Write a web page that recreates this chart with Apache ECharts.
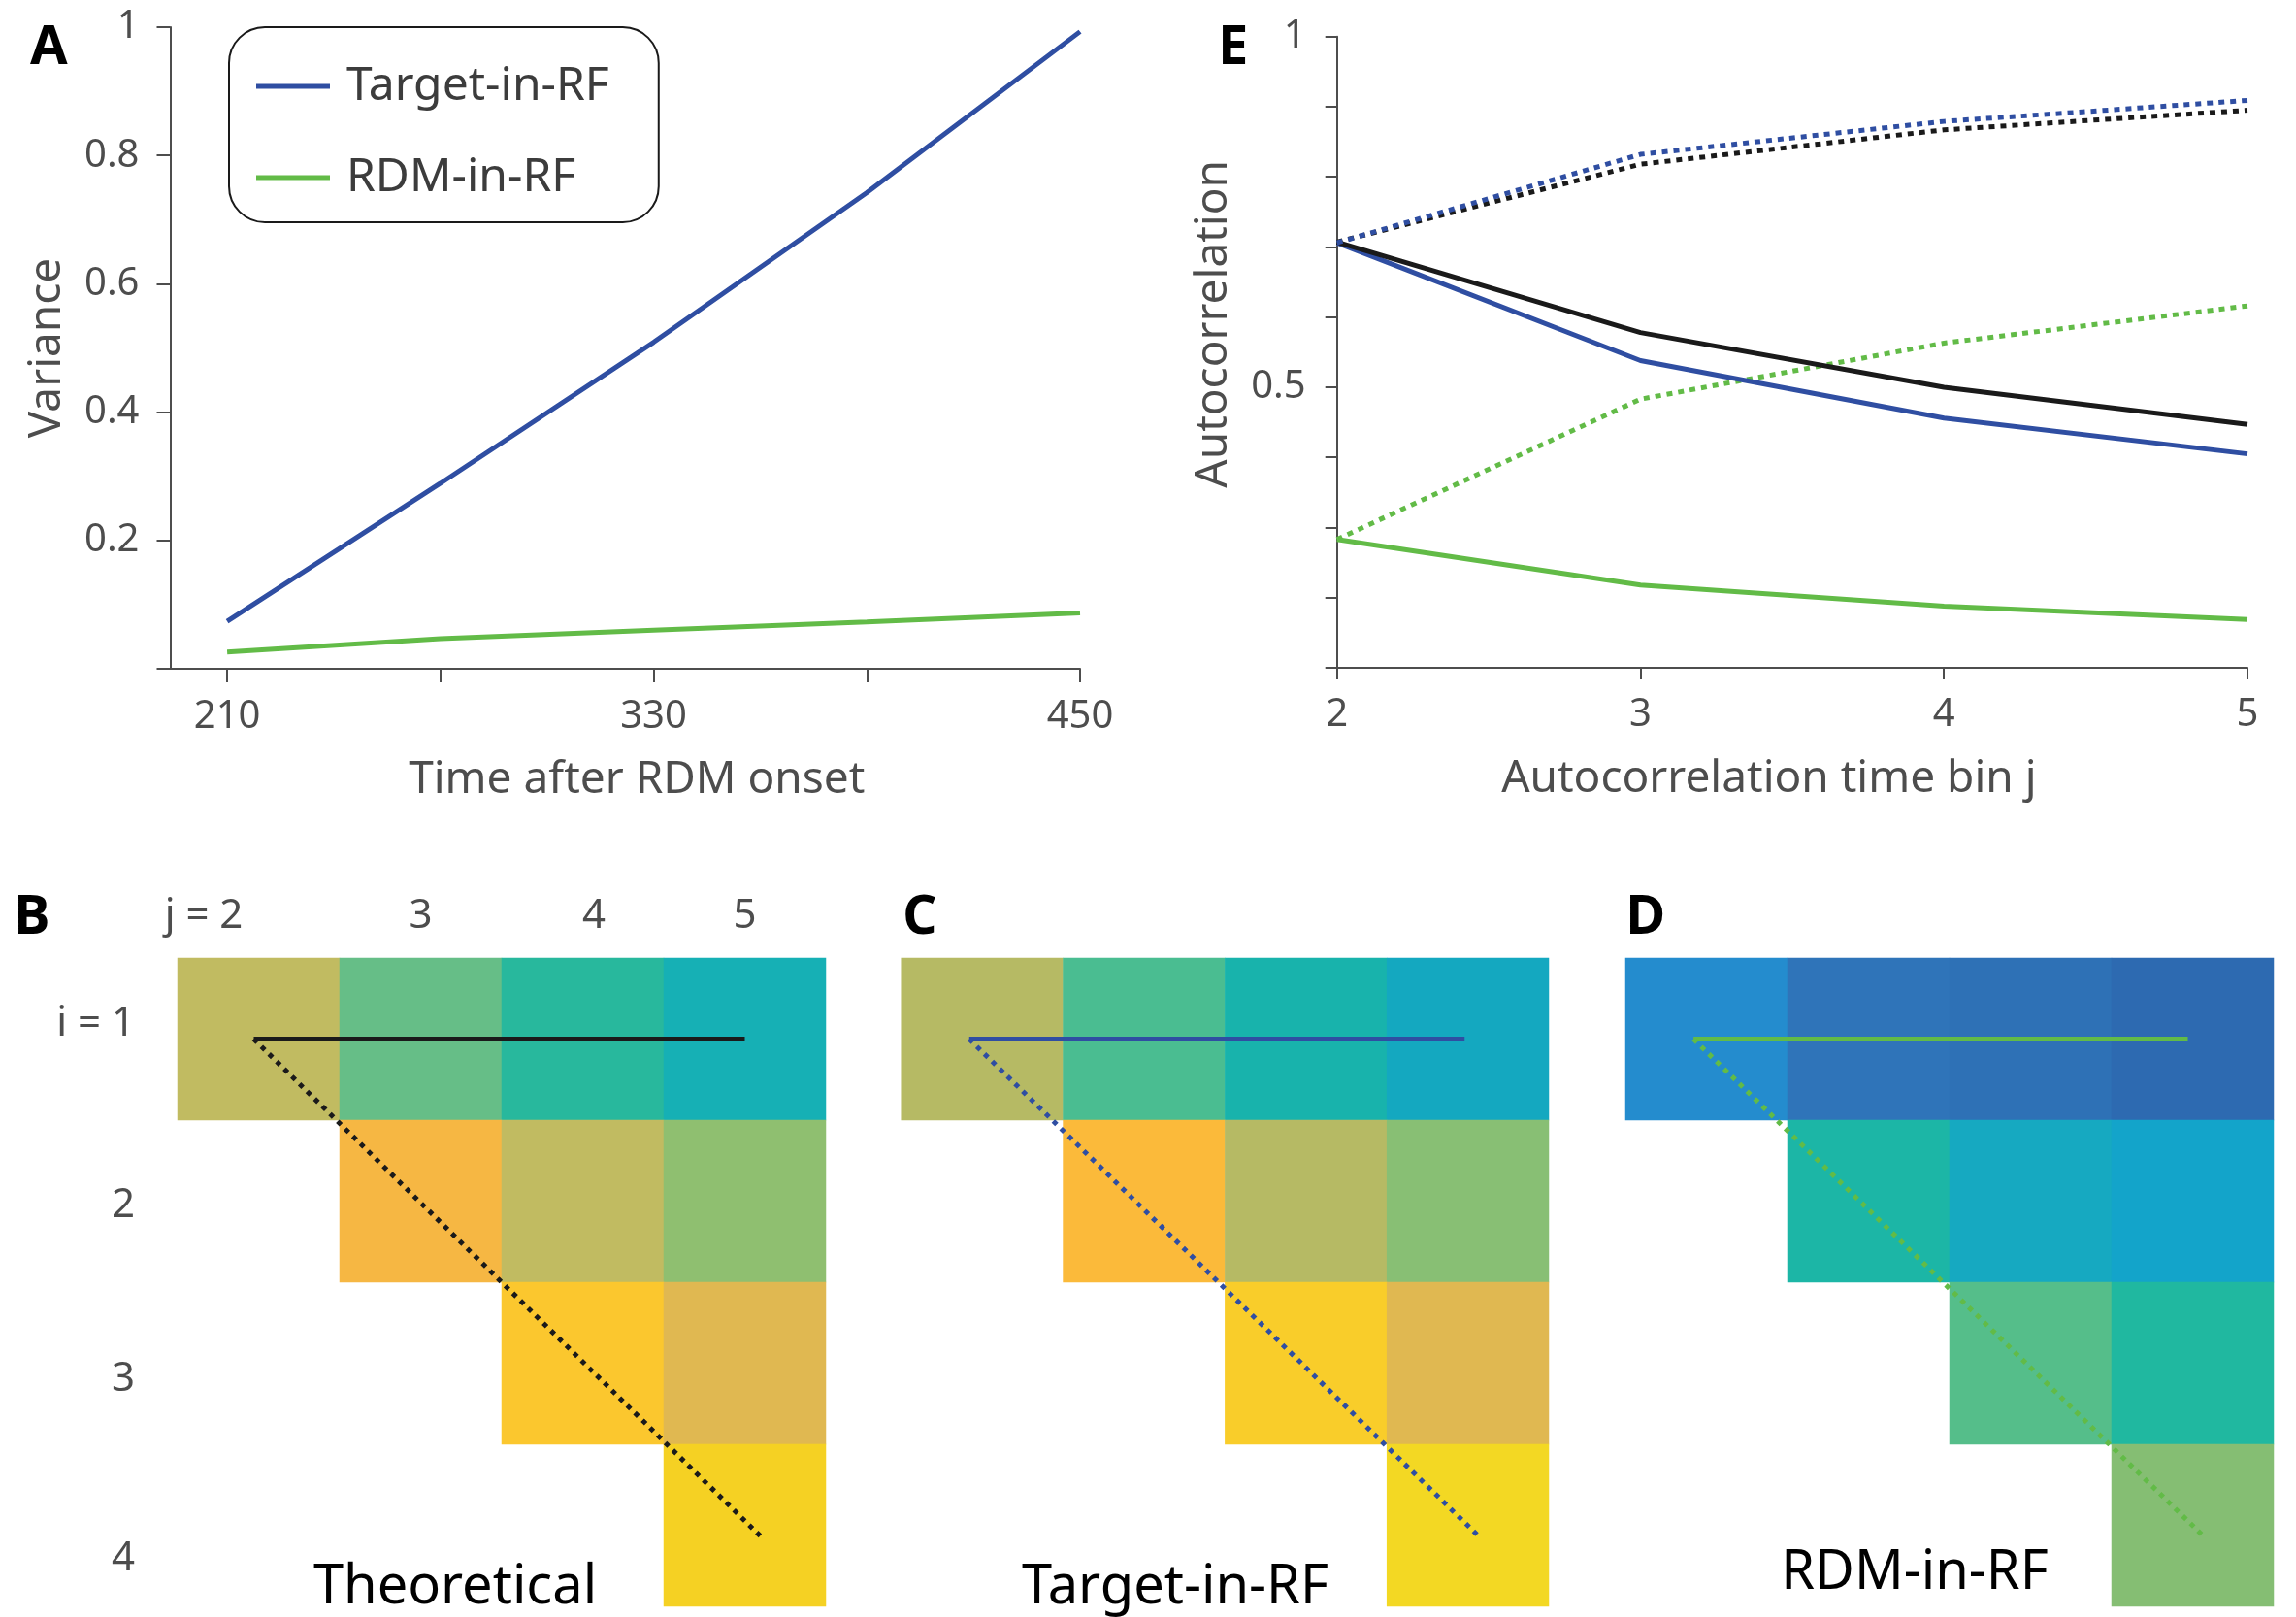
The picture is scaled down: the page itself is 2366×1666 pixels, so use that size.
<!DOCTYPE html>
<html><head><meta charset="utf-8">
<script src="https://cdn.jsdelivr.net/npm/echarts@6/dist/echarts.min.js"></script>
<style>html,body{margin:0;padding:0;background:#fff}#c{width:2366px;height:1666px}</style>
</head><body><div id="c"></div>
<script>
// ---------- Panel A data ----------
const timeBins = [210, 270, 330, 390, 450];
const varianceTarget = [0.074, 0.289, 0.509, 0.742, 0.993];
const varianceRDM = [0.026, 0.047, 0.060, 0.073, 0.087];
const timeTicks = [210, 270, 330, 390, 450];
const timeTickLabels = [210, 330, 450];
const varianceTicks = [0, 0.2, 0.4, 0.6, 0.8, 1];
const varianceTickLabels = [0.2, 0.4, 0.6, 0.8, 1];

// ---------- Panel E data ----------
const lagBins = [2, 3, 4, 5];
const acTheoryRow = [0.707, 0.578, 0.500, 0.447];
const acTheoryDiag = [0.707, 0.818, 0.867, 0.895];
const acTargetRow = [0.706, 0.538, 0.456, 0.405];
const acTargetDiag = [0.706, 0.832, 0.879, 0.909];
const acRdmRow = [0.283, 0.218, 0.188, 0.169];
const acRdmDiag = [0.283, 0.483, 0.563, 0.616];
const acTicks = [0.1, 0.2, 0.3, 0.4, 0.5, 0.6, 0.7, 0.8, 0.9, 1];
const acTickLabels = [0.5, 1];

// ---------- Panels B, C, D data ----------
const jLabels = ['2', '3', '4', '5'];
const iLabels = ['1', '2', '3', '4'];
const theoryMatrix = [
  [0.707, 0.577, 0.500, 0.447],
  [null, 0.816, 0.707, 0.632],
  [null, null, 0.866, 0.775],
  [null, null, null, 0.894]
];
const targetMatrix = [
  [0.706, 0.538, 0.456, 0.405],
  [null, 0.832, 0.700, 0.620],
  [null, null, 0.879, 0.780],
  [null, null, null, 0.909]
];
const rdmMatrix = [
  [0.283, 0.218, 0.188, 0.169],
  [null, 0.483, 0.400, 0.370],
  [null, null, 0.563, 0.470],
  [null, null, null, 0.616]
];
// overlay path endpoints in (j, i) cell units
const rowPathB = [[1.97, 1], [5.0, 1]];
const diagPathB = [[1.97, 1], [5.1, 4.07]];
const rowPathC = [[1.92, 1], [4.98, 1]];
const diagPathC = [[1.92, 1], [5.07, 4.07]];
const rowPathD = [[1.92, 1], [4.97, 1]];
const diagPathD = [[1.92, 1], [5.07, 4.07]];

// ---------- styles ----------
const colorsB = [
  ['#C1BB61', '#66BE87', '#28B89D', '#16B0B5'],
  [null, '#F6B743', '#C1BB61', '#8FBF70'],
  [null, null, '#FBC72E', '#E0B851'],
  [null, null, null, '#F5D123']
];
const colorsC = [
  ['#B6BA64', '#4ABD91', '#18B3AC', '#14A8C0'],
  [null, '#FBBA3A', '#B6BA64', '#88BF74'],
  [null, null, '#F9CD2A', '#E0B851'],
  [null, null, null, '#F3D823']
];
const colorsD = [
  ['#248CCE', '#2F74B9', '#2E71B6', '#2D6AB1'],
  [null, '#1CB6A6', '#16A9C1', '#13A4CA'],
  [null, null, '#55BE8A', '#20B8A0'],
  [null, null, null, '#85BE73']
];
const BLUE = '#2F4EA2', GREEN = '#62BB47', BLACK = '#1A1A1A', GRAY = '#4D4D4D';
const FONT = 'Noto Sans';

function zip(xs, ys) { return xs.map((x, k) => [x, ys[k]]); }
function heatData(mat, cols) {
  const out = [];
  mat.forEach((row, r) => row.forEach((v, c) => {
    if (v !== null) out.push({ value: [c, r, v], itemStyle: { color: cols[r][c] } });
  }));
  return out;
}

const axisLineStyle = { show: true, lineStyle: { color: GRAY, width: 2 } };
const labelStyle = { color: GRAY, fontSize: 40, fontFamily: FONT };
const nameStyle = { color: GRAY, fontSize: 46, fontFamily: FONT };

const grids = [
  { left: 175.5, top: 28, width: 937.5, height: 661 },
  { left: 1377.7, top: 37.7, width: 938.3, height: 650.3 },
  { left: 183, top: 987, width: 668, height: 668 },
  { left: 928.7, top: 987, width: 667.3, height: 668 },
  { left: 1675, top: 987, width: 668, height: 668 }
].map(g => Object.assign({ outerBoundsMode: 'none', containLabel: false }, g));

const hiddenCat = (gi, data, inverse) => ({ gridIndex: gi, type: 'category', data: data, show: false, inverse: !!inverse });
const hiddenVal = (gi, min, max, inverse) => ({ gridIndex: gi, type: 'value', min: min, max: max, show: false, inverse: !!inverse });

const xAxes = [
  {
    gridIndex: 0, type: 'value', min: 194, max: 450,
    axisLine: axisLineStyle,
    axisTick: { show: true, inside: false, length: 14, customValues: timeTicks, lineStyle: { color: GRAY, width: 2 } },
    axisLabel: Object.assign({ customValues: timeTickLabels, margin: 30 }, labelStyle),
    splitLine: { show: false },
    name: 'Time after RDM onset', nameLocation: 'middle', nameGap: 92,
    nameTextStyle: Object.assign({ padding: [0, 0, 0, 24] }, nameStyle)
  },
  {
    gridIndex: 1, type: 'value', min: 2, max: 5, interval: 1,
    axisLine: axisLineStyle,
    axisTick: { show: true, inside: false, length: 12, lineStyle: { color: GRAY, width: 2 } },
    axisLabel: Object.assign({ margin: 29 }, labelStyle),
    splitLine: { show: false },
    name: 'Autocorrelation time bin j', nameLocation: 'middle', nameGap: 92,
    nameTextStyle: Object.assign({ padding: [0, 48, 0, 0] }, nameStyle)
  },
  {
    gridIndex: 2, type: 'category', data: jLabels, position: 'top',
    axisLine: { show: false }, axisTick: { show: false }, splitLine: { show: false },
    axisLabel: {
      interval: 0, margin: 22, color: GRAY, fontSize: 42, fontFamily: FONT,
      formatter: (v, idx) => idx === 0 ? '{a|j = ' + v + '}' : (idx === 2 ? '{c|' + v + '}' : '{n|' + v + '}'),
      rich: {
        a: { color: GRAY, fontSize: 42, fontFamily: FONT, padding: [0, 113, 0, 0] },
        c: { color: GRAY, fontSize: 42, fontFamily: FONT, padding: [0, 0, 0, 23] },
        n: { color: GRAY, fontSize: 42, fontFamily: FONT }
      }
    }
  },
  hiddenVal(2, 1.5, 5.5),
  hiddenCat(3, jLabels), hiddenVal(3, 1.5, 5.5),
  hiddenCat(4, jLabels), hiddenVal(4, 1.5, 5.5)
];

const yAxes = [
  {
    gridIndex: 0, type: 'value', min: 0, max: 1,
    axisLine: axisLineStyle,
    axisTick: { show: true, inside: false, length: 14, customValues: varianceTicks, lineStyle: { color: GRAY, width: 2 } },
    axisLabel: Object.assign({ customValues: varianceTickLabels, margin: 32 }, labelStyle),
    splitLine: { show: false },
    name: 'Variance', nameLocation: 'middle', nameGap: 104, nameTextStyle: nameStyle
  },
  {
    gridIndex: 1, type: 'value', min: 0.1, max: 1,
    axisLine: axisLineStyle,
    axisTick: { show: true, inside: false, length: 12, customValues: acTicks, lineStyle: { color: GRAY, width: 2 } },
    axisLabel: Object.assign({ customValues: acTickLabels, margin: 32 }, labelStyle),
    splitLine: { show: false },
    name: 'Autocorrelation', nameLocation: 'middle', nameGap: 104,
    nameTextStyle: Object.assign({ padding: [0, 0, 0, 58] }, nameStyle)
  },
  {
    gridIndex: 2, type: 'category', data: iLabels, inverse: true,
    axisLine: { show: false }, axisTick: { show: false }, splitLine: { show: false },
    axisLabel: {
      interval: 0, margin: 44, color: GRAY, fontSize: 42, fontFamily: FONT,
      formatter: (v, idx) => idx === 0 ? '{s0|i = ' + v + '}' : '{s' + idx + '|' + v + '}',
      rich: {
        s0: { color: GRAY, fontSize: 42, fontFamily: FONT, padding: [0, 0, 30, 0] },
        s1: { color: GRAY, fontSize: 42, fontFamily: FONT, padding: [10, 0, 0, 0] },
        s2: { color: GRAY, fontSize: 42, fontFamily: FONT, padding: [34, 0, 0, 0] },
        s3: { color: GRAY, fontSize: 42, fontFamily: FONT, padding: [70, 0, 0, 0] }
      }
    }
  },
  hiddenVal(2, 0.5, 4.5, true),
  hiddenCat(3, iLabels, true), hiddenVal(3, 0.5, 4.5, true),
  hiddenCat(4, iLabels, true), hiddenVal(4, 0.5, 4.5, true)
];

const lineSeries = (name, xi, data, color, dotted, z) => ({
  name: name, type: 'line', xAxisIndex: xi, yAxisIndex: xi, data: data,
  symbol: 'none', silent: true, z: z || 3,
  lineStyle: { color: color, width: 5, type: dotted ? [6, 6] : 'solid', cap: 'butt' },
  itemStyle: { color: color }
});
const pathSeries = (xi, data, color, dotted) => ({
  type: 'line', xAxisIndex: xi, yAxisIndex: xi, data: data, symbol: 'none', silent: true, z: 5,
  lineStyle: { color: color, width: 5, type: dotted ? [5, 6] : 'solid', cap: 'butt' }
});
const heatSeries = (xi, data) => ({
  type: 'heatmap', xAxisIndex: xi, yAxisIndex: xi, data: data, silent: true, z: 2,
  emphasis: { disabled: true }
});

const series = [
  lineSeries('Target-in-RF', 0, zip(timeBins, varianceTarget), BLUE),
  lineSeries('RDM-in-RF', 0, zip(timeBins, varianceRDM), GREEN),
  lineSeries('E RDM row', 1, zip(lagBins, acRdmRow), GREEN, false),
  lineSeries('E RDM diag', 1, zip(lagBins, acRdmDiag), GREEN, true),
  lineSeries('E Target row', 1, zip(lagBins, acTargetRow), BLUE, false),
  lineSeries('E Theory row', 1, zip(lagBins, acTheoryRow), BLACK, false),
  lineSeries('E Theory diag', 1, zip(lagBins, acTheoryDiag), BLACK, true),
  lineSeries('E Target diag', 1, zip(lagBins, acTargetDiag), BLUE, true),
  heatSeries(2, heatData(theoryMatrix, colorsB)),
  heatSeries(4, heatData(targetMatrix, colorsC)),
  heatSeries(6, heatData(rdmMatrix, colorsD)),
  pathSeries(3, rowPathB, BLACK, false), pathSeries(3, diagPathB, BLACK, true),
  pathSeries(5, rowPathC, BLUE, false), pathSeries(5, diagPathC, BLUE, true),
  pathSeries(7, rowPathD, GREEN, false), pathSeries(7, diagPathD, GREEN, true)
];

const letter = (t, x, y) => ({ text: t, left: x, top: y, padding: 0,
  textStyle: { fontSize: 56, fontWeight: 'bold', fontFamily: 'Open Sans', color: '#000' } });
const caption = (t, cx, y) => ({ text: t, left: cx, top: y, textAlign: 'center', padding: 0,
  textStyle: { fontSize: 56, fontWeight: 'normal', fontFamily: FONT, color: '#000' } });

const option = {
  animation: false,
  backgroundColor: '#fff',
  title: [
    letter('A', 31, 22), letter('E', 1255, 22), letter('B', 14, 918),
    letter('C', 930, 918), letter('D', 1675, 918),
    caption('Theoretical', 469, 1608), caption('Target-in-RF', 1211, 1608), caption('RDM-in-RF', 1973, 1593)
  ],
  legend: {
    data: ['Target-in-RF', 'RDM-in-RF'], orient: 'vertical', left: 236, top: 28,
    icon: 'rect', itemWidth: 76, itemHeight: 5, itemGap: 44,
    padding: [36, 51, 21, 28],
    borderColor: '#1a1a1a', borderWidth: 2, borderRadius: 37,
    selectedMode: false,
    textStyle: { fontSize: 48, fontFamily: FONT, color: '#3C3C3C', lineHeight: 50, padding: [0, 0, 0, 12] }
  },
  grid: grids,
  xAxis: xAxes,
  yAxis: yAxes,
  series: series
};

const chart = echarts.init(document.getElementById('c'), null, { renderer: 'canvas' });
chart.setOption(option);
</script>
</body></html>
